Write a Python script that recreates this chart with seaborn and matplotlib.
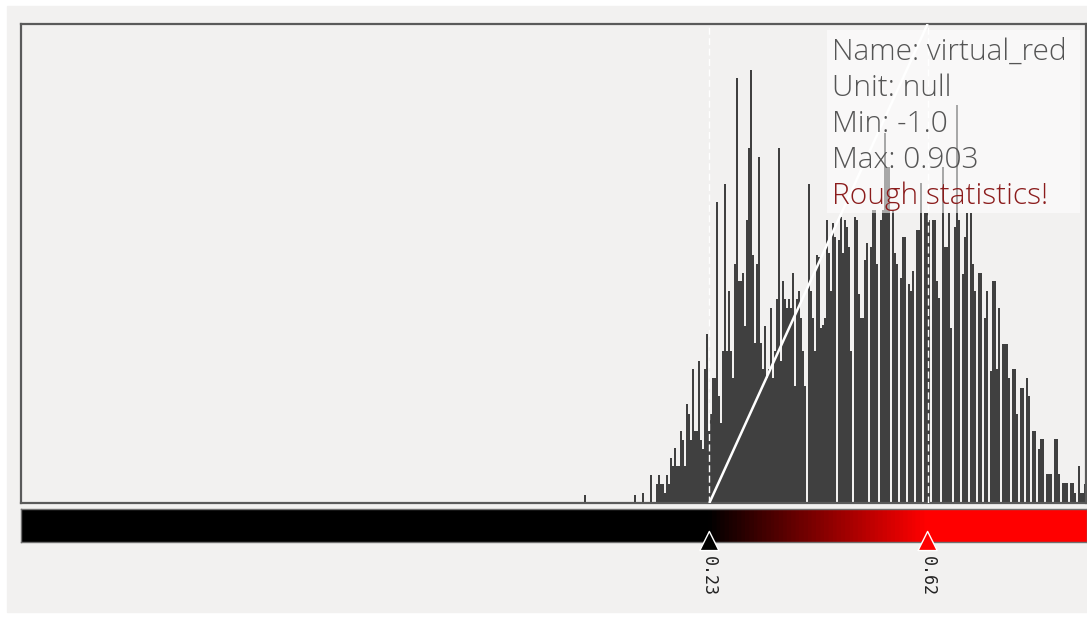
import numpy as np
import matplotlib
matplotlib.use("Agg")
import matplotlib.pyplot as plt
from matplotlib.colors import LinearSegmentedColormap
from matplotlib.patches import Rectangle
import seaborn as sns

# histogram range and bin layout
value_min = -1.0
value_max = 0.903
n_bins = 532
first_bin = 281

# bin counts, starting at first_bin
counts = [
    8, 0, 0, 0, 0, 0, 0, 0, 0, 0, 0, 0, 0, 0, 0, 0, 0, 0, 0, 0, 0, 0, 0, 0, 0,
    8, 0, 0, 0, 10, 0, 0, 0, 28, 0, 0,
    19, 28, 19, 19, 10, 28, 19, 45, 37, 55, 37, 37, 72, 63, 37, 99, 89, 63, 134,
    72, 72, 142, 63, 54, 134, 169, 72, 89, 125, 125, 300, 107, 80, 152, 318, 152, 212,
    152, 125, 239, 424, 222, 222, 230, 177, 282, 354, 432, 247, 160, 239, 345, 160,
    134, 177, 125, 134, 195, 125, 152, 204, 354, 142, 222, 204, 195, 204, 195, 230,
    117, 204, 212, 185, 152, 117, 0, 318, 212, 185, 152,
    247, 245, 175, 178, 185, 282, 249, 212, 279, 265, 0, 262, 285, 249, 282, 275,
    255, 152, 0, 285, 282, 209, 185, 185, 242, 259, 0, 255, 292, 292, 239, 0,
    282, 292, 369, 335, 335, 0, 292, 249, 239, 0, 225, 265, 265, 0, 219, 212,
    232, 0, 272, 272, 319, 0, 289, 289, 282, 0, 282, 282, 222, 205, 0, 335,
    255, 255, 289, 175, 0, 275, 397, 282, 0, 229, 265, 289, 0, 289, 239, 212,
    0, 230, 230, 0, 185, 212, 0, 132, 222, 222, 134, 195, 0, 159, 159, 159,
    125, 0, 134, 134, 89, 0, 115, 115, 0, 125, 107, 0, 72, 72, 0, 54,
    64, 64, 0, 29, 29, 29, 0, 64, 64, 29, 0, 20, 20, 20, 0, 20,
    20, 10, 0, 37, 10, 10, 19,
]

slider_values = [0.23, 0.62]
slider_labels = ["0.23", "0.62"]
slider_colors = ["#000000", "#ff0000"]

info_lines = ["Name: virtual_red", "Unit: null", "Min: -1.0", "Max: 0.903"]
warning_line = "Rough statistics!"

bin_width = (value_max - value_min) / n_bins
centers = value_min + (first_bin + np.arange(len(counts)) + 0.5) * bin_width

sns.set_theme(style="white")

W, H = 1087, 619
fig = plt.figure(figsize=(W / 100, H / 100), dpi=100)
fig.patch.set_facecolor("white")
bg = "#f2f1f0"


def box(x0, y0, x1, y1):
    # pixel box (y measured from the top) -> figure fraction rect
    return [x0 / W, 1 - y1 / H, (x1 - x0) / W, (y1 - y0) / H]


fig.add_artist(Rectangle((7 / W, 1 - 612 / H), 1, (612 - 6) / H,
                         transform=fig.transFigure, color=bg, zorder=-10))

# histogram
ax = fig.add_axes(box(21, 24, 1086, 503))
sns.histplot(x=centers, weights=counts, bins=n_bins, binrange=(value_min, value_max),
             color="#404040", alpha=1, linewidth=0, antialiased=False, ax=ax)
ax.set_xlim(value_min, value_max)
ymax = 478
ax.set_ylim(0, ymax)
ax.set_facecolor(bg)
ax.set_xticks([])
ax.set_yticks([])
ax.set_xlabel("")
ax.set_ylabel("")
for s in ax.spines.values():
    s.set_color("#5a5a5a")
    s.set_linewidth(1.6)

for v in slider_values:
    ax.axvline(v, color="white", lw=1, ls=(0, (5, 2.5)), zorder=4)
ax.plot(slider_values, [0, ymax], color="white", lw=1.8, zorder=5, solid_capstyle="butt")

# info box
fig.add_artist(Rectangle((827 / W, 1 - 213 / H), (1080 - 827) / W, (213 - 30) / H,
                         transform=fig.transFigure, facecolor="white", alpha=0.55,
                         edgecolor="none", zorder=5))
for i, line in enumerate(info_lines + [warning_line]):
    fig.text(832 / W, 1 - (52 + 36 * i) / H, line, ha="left", va="center",
             fontsize=21.5, family="Open Sans", fontweight="light",
             color="#8b1c1c" if line == warning_line else "#555555", zorder=6)

# colour bar
xmax_bar = value_min + (1087 - 21) * (value_max - value_min) / (1086 - 21)
cax = fig.add_axes(box(21, 509, 1087, 542))
span = xmax_bar - value_min
cmap = LinearSegmentedColormap.from_list(
    "slider", [(0, "#000000"), ((slider_values[0] - value_min) / span, slider_colors[0]),
               ((slider_values[1] - value_min) / span, slider_colors[1]), (1, "#ff0000")])
cax.imshow(np.linspace(0, 1, 1200)[None, :], cmap=cmap, aspect="auto",
           extent=[value_min, xmax_bar, 0, 1])
cax.set_xlim(value_min, xmax_bar)
cax.set_xticks([])
cax.set_yticks([])
for s in cax.spines.values():
    s.set_color("#707070")
    s.set_linewidth(1)

# slider markers and labels
sax = fig.add_axes(box(21, 525, 1087, 610))
sax.set_xlim(value_min, xmax_bar)
sax.set_ylim(85, 0)
sax.axis("off")
sax.patch.set_alpha(0)
sax.scatter(slider_values, [16, 16], marker="^", s=190, c=slider_colors,
            edgecolors="white", linewidths=1, zorder=3)
for v, lab in zip(slider_values, slider_labels):
    sax.text(v, 31, lab, rotation=-90, ha="center", va="top",
             fontsize=12, family="DejaVu Sans Mono", color="#222222")

fig.savefig("out.png", dpi=100)
